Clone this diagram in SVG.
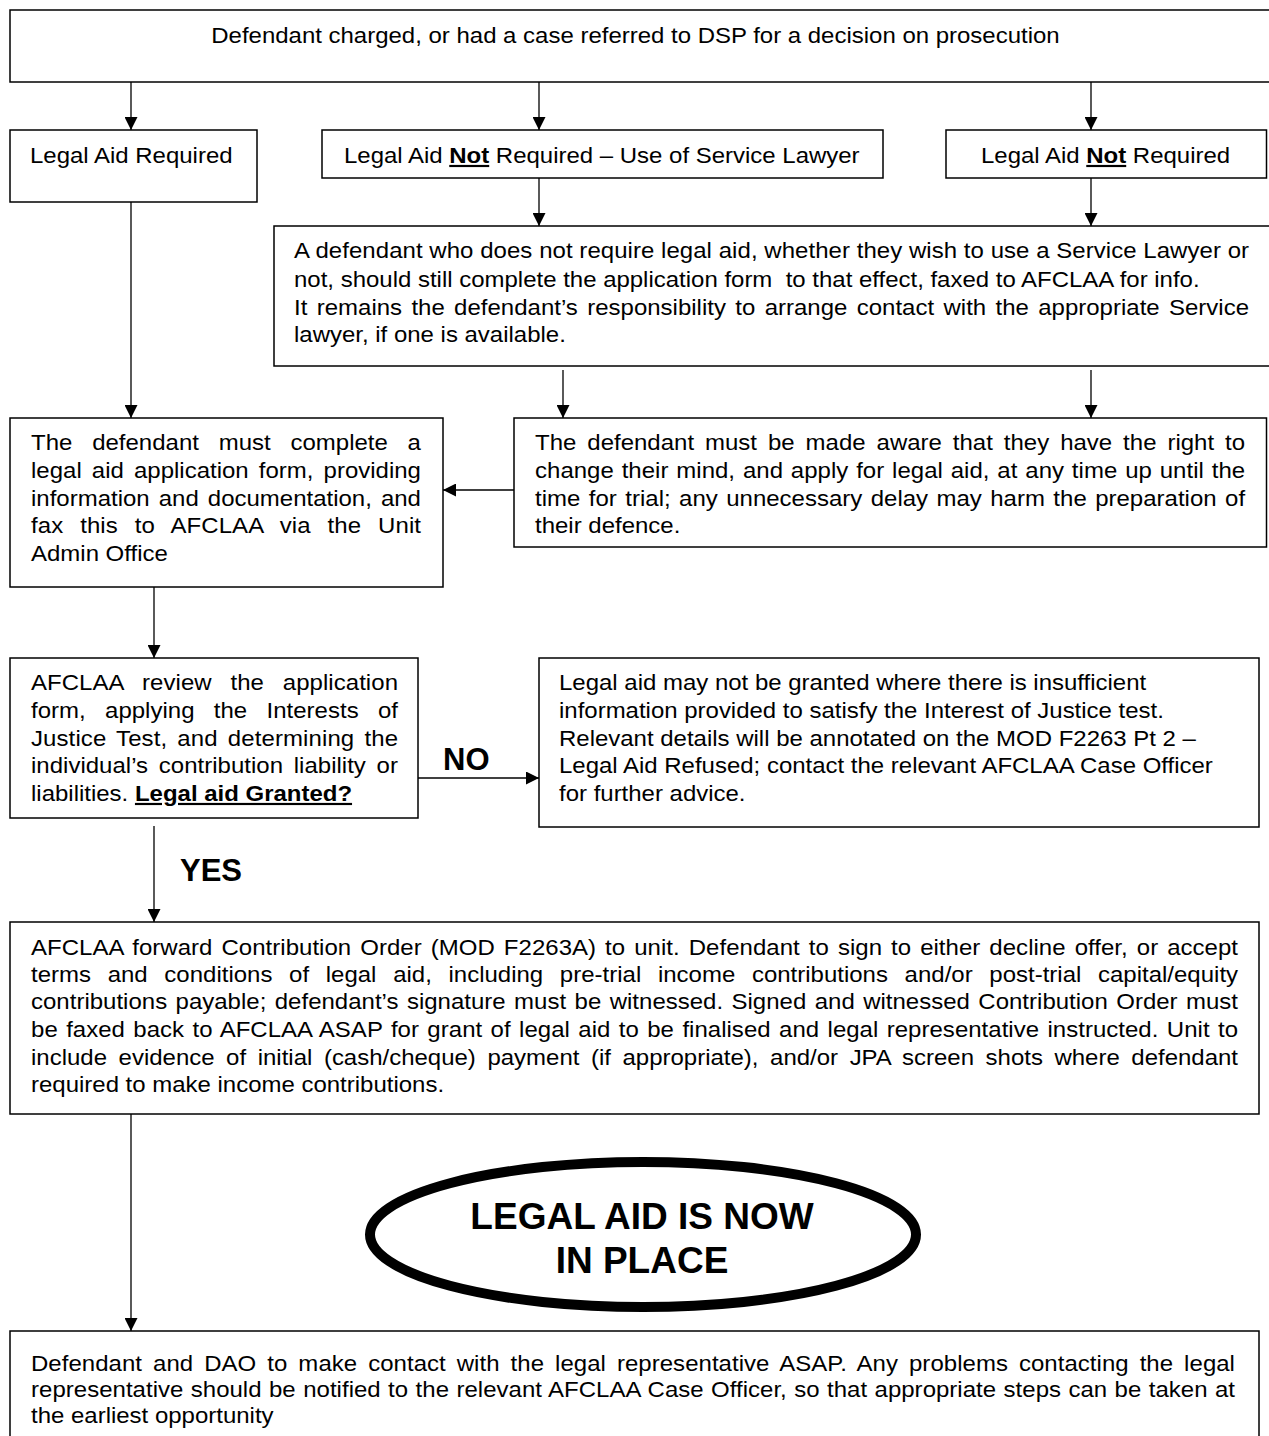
<svg xmlns="http://www.w3.org/2000/svg" width="1269" height="1436" viewBox="0 0 1269 1436">
<style>
.box{fill:#fff;stroke:#000;stroke-width:1.5}
.t{font-family:"Liberation Sans",Arial,sans-serif;font-size:21.8px;fill:#000}
.b{font-weight:bold;text-decoration:underline}
.lbl{font-family:"Liberation Sans",Arial,sans-serif;font-weight:bold;fill:#000}
.ln{fill:none;stroke:#000;stroke-width:1.3}
</style>
<defs>
<marker id="ah" viewBox="0 0 13 13" refX="13" refY="6.5" markerWidth="13" markerHeight="13" markerUnits="userSpaceOnUse" orient="auto">
<path d="M0,0 L13,6.5 L0,13 Z" fill="#000"/>
</marker>
</defs>
<rect width="1269" height="1436" fill="#fff"/>

<g id="connectors">
<line class="ln" x1="131" y1="82" x2="131" y2="130" marker-end="url(#ah)"/>
<line class="ln" x1="539" y1="82" x2="539" y2="130" marker-end="url(#ah)"/>
<line class="ln" x1="1091" y1="82" x2="1091" y2="130" marker-end="url(#ah)"/>
<line class="ln" x1="539" y1="178" x2="539" y2="226" marker-end="url(#ah)"/>
<line class="ln" x1="1091" y1="178" x2="1091" y2="226" marker-end="url(#ah)"/>
<line class="ln" x1="131" y1="202" x2="131" y2="418" marker-end="url(#ah)"/>
<line class="ln" x1="563" y1="370" x2="563" y2="418" marker-end="url(#ah)"/>
<line class="ln" x1="1091" y1="370" x2="1091" y2="418" marker-end="url(#ah)"/>
<line class="ln" x1="514" y1="490" x2="443" y2="490" marker-end="url(#ah)"/>
<line class="ln" x1="154" y1="587" x2="154" y2="658" marker-end="url(#ah)"/>
<line class="ln" x1="418" y1="778" x2="539" y2="778" marker-end="url(#ah)"/>
<line class="ln" x1="154" y1="826" x2="154" y2="922" marker-end="url(#ah)"/>
<line class="ln" x1="131" y1="1114" x2="131" y2="1331" marker-end="url(#ah)"/>
<text class="lbl" x="443" y="770" font-size="31">NO</text>
<text class="lbl" x="180" y="881" font-size="31">YES</text>
</g>

<g id="start">
<rect class="box" x="10" y="10" width="1270" height="72"/>
<text class="t" transform="scale(1.1 1)" x="577.7" y="43" text-anchor="middle">Defendant charged, or had a case referred to DSP for a decision on prosecution</text>
</g>

<g id="required">
<rect class="box" x="10" y="130" width="247" height="72"/>
<text class="t" transform="scale(1.1 1)" x="27.3" y="163">Legal Aid Required</text>
</g>

<g id="not-required-service">
<rect class="box" x="322" y="130" width="561" height="48"/>
<text class="t" transform="scale(1.1 1)" x="312.7" y="163">Legal Aid <tspan class="b">Not</tspan> Required – Use of Service Lawyer</text>
</g>

<g id="not-required">
<rect class="box" x="946" y="130" width="320.5" height="48"/>
<text class="t" transform="scale(1.1 1)" x="891.8" y="163">Legal Aid <tspan class="b">Not</tspan> Required</text>
</g>

<g id="no-aid-info">
<rect class="box" x="274" y="226" width="1006" height="140"/>
<g class="t" transform="scale(1.1 1)">
<text x="267.3" y="258" textLength="868.2" lengthAdjust="spacing">A defendant who does not require legal aid, whether they wish to use a Service Lawyer or</text>
<text x="267.3" y="287" xml:space="preserve">not, should still complete the application form  to that effect, faxed to AFCLAA for info.</text>
<text x="267.3" y="315" word-spacing="2.4" textLength="868.2" lengthAdjust="spacing">It remains the defendant’s responsibility to arrange contact with the appropriate Service</text>
<text x="267.3" y="342">lawyer, if one is available.</text>
</g>
</g>

<g id="apply-form">
<rect class="box" x="10" y="418" width="433" height="169"/>
<g class="t" transform="scale(1.1 1)">
<text x="28.2" y="450" word-spacing="11.9" textLength="354.5" lengthAdjust="spacing">The defendant must complete a</text>
<text x="28.2" y="478" word-spacing="3.1" textLength="354.5" lengthAdjust="spacing">legal aid application form, providing</text>
<text x="28.2" y="506" word-spacing="2.2" textLength="354.5" lengthAdjust="spacing">information and documentation, and</text>
<text x="28.2" y="533" word-spacing="9.2" textLength="354.5" lengthAdjust="spacing">fax this to AFCLAA via the Unit</text>
<text x="28.2" y="561">Admin Office</text>
</g>
</g>

<g id="change-mind">
<rect class="box" x="514" y="418" width="752.5" height="129"/>
<g class="t" transform="scale(1.1 1)">
<text x="486.4" y="450" word-spacing="3.9" textLength="645.5" lengthAdjust="spacing">The defendant must be made aware that they have the right to</text>
<text x="486.4" y="478" word-spacing="1.1" textLength="645.5" lengthAdjust="spacing">change their mind, and apply for legal aid, at any time up until the</text>
<text x="486.4" y="506" word-spacing="1.6" textLength="645.5" lengthAdjust="spacing">time for trial; any unnecessary delay may harm the preparation of</text>
<text x="486.4" y="533">their defence.</text>
</g>
</g>

<g id="review">
<rect class="box" x="10" y="658" width="408" height="160"/>
<g class="t" transform="scale(1.1 1)">
<text x="28.2" y="690" word-spacing="11.0" textLength="333.6" lengthAdjust="spacing">AFCLAA review the application</text>
<text x="28.2" y="718" word-spacing="11.5" textLength="333.6" lengthAdjust="spacing">form, applying the Interests of</text>
<text x="28.2" y="746" word-spacing="3.1" textLength="333.6" lengthAdjust="spacing">Justice Test, and determining the</text>
<text x="28.2" y="773" word-spacing="3.7" textLength="333.6" lengthAdjust="spacing">individual’s contribution liability or</text>
<text x="28.2" y="801">liabilities. <tspan class="b">Legal aid Granted?</tspan></text>
</g>
</g>

<g id="refused">
<rect class="box" x="539" y="658" width="720" height="169"/>
<g class="t" transform="scale(1.1 1)">
<text x="508.2" y="690">Legal aid may not be granted where there is insufficient</text>
<text x="508.2" y="718">information provided to satisfy the Interest of Justice test.</text>
<text x="508.2" y="746">Relevant details will be annotated on the MOD F2263 Pt 2 –</text>
<text x="508.2" y="773">Legal Aid Refused; contact the relevant AFCLAA Case Officer</text>
<text x="508.2" y="801">for further advice.</text>
</g>
</g>

<g id="contribution-order">
<rect class="box" x="10" y="922" width="1249" height="192"/>
<g class="t" transform="scale(1.1 1)">
<text x="28.2" y="955" word-spacing="2.1" textLength="1097.3" lengthAdjust="spacing">AFCLAA forward Contribution Order (MOD F2263A) to unit. Defendant to sign to either decline offer, or accept</text>
<text x="28.2" y="982" word-spacing="9.1" textLength="1097.3" lengthAdjust="spacing">terms and conditions of legal aid, including pre-trial income contributions and/or post-trial capital/equity</text>
<text x="28.2" y="1009" word-spacing="1.6" textLength="1097.3" lengthAdjust="spacing">contributions payable; defendant’s signature must be witnessed. Signed and witnessed Contribution Order must</text>
<text x="28.2" y="1037" word-spacing="1.56" textLength="1097.3" lengthAdjust="spacing">be faxed back to AFCLAA ASAP for grant of legal aid to be finalised and legal representative instructed. Unit to</text>
<text x="28.2" y="1065" word-spacing="4.45" textLength="1097.3" lengthAdjust="spacing">include evidence of initial (cash/cheque) payment (if appropriate), and/or JPA screen shots where defendant</text>
<text x="28.2" y="1092">required to make income contributions.</text>
</g>
</g>

<g id="in-place">
<ellipse cx="643" cy="1234.5" rx="273" ry="72.5" fill="#fff" stroke="#000" stroke-width="10"/>
<text class="lbl" x="642" y="1229" font-size="37" text-anchor="middle">LEGAL AID IS NOW</text>
<text class="lbl" x="642" y="1273" font-size="37" text-anchor="middle">IN PLACE</text>
</g>

<g id="contact">
<rect class="box" x="10" y="1331" width="1249" height="120"/>
<g class="t" transform="scale(1.1 1)">
<text x="28.2" y="1371" word-spacing="3.9" textLength="1094.5" lengthAdjust="spacing">Defendant and DAO to make contact with the legal representative ASAP. Any problems contacting the legal</text>
<text x="28.2" y="1397" word-spacing="0.66" textLength="1094.5" lengthAdjust="spacing">representative should be notified to the relevant AFCLAA Case Officer, so that appropriate steps can be taken at</text>
<text x="28.2" y="1423">the earliest opportunity</text>
</g>
</g>
</svg>
